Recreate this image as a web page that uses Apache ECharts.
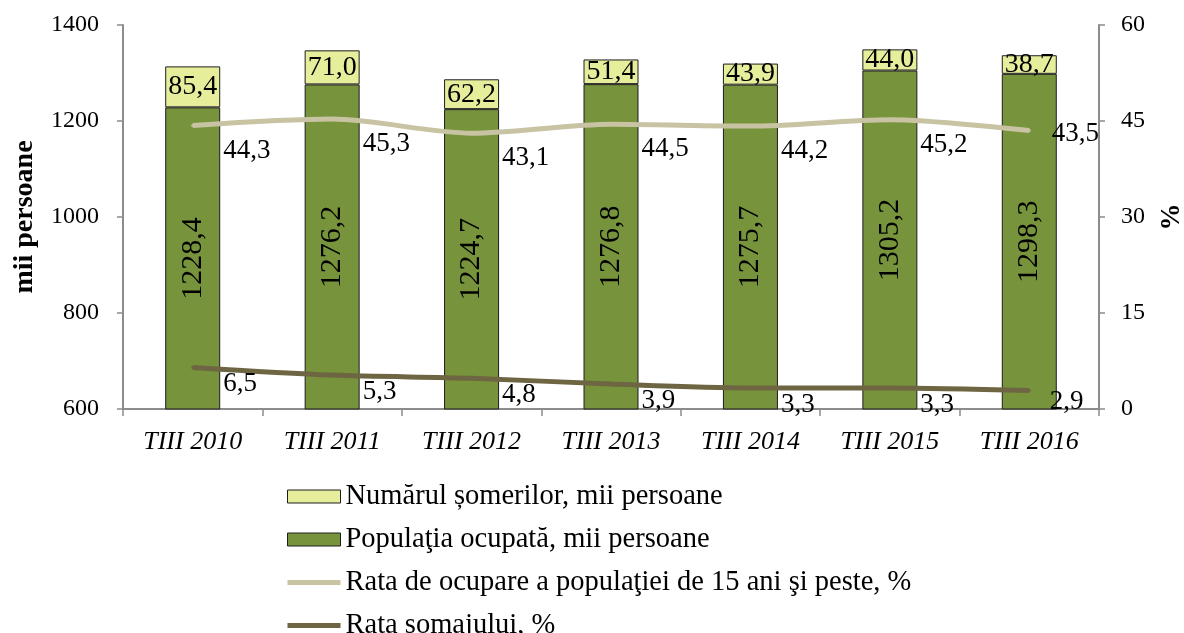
<!DOCTYPE html>
<html>
<head>
<meta charset="utf-8">
<script src="https://cdn.jsdelivr.net/npm/echarts@6/dist/echarts.min.js"></script>
<style>
  html, body { margin: 0; padding: 0; background: #fff; }
  #chart { width: 1184px; height: 633px; }
</style>
</head>
<body>
<div id="chart"></div>
<script>
// Quarterly labour-market indicators
const categories = ['TIII 2010', 'TIII 2011', 'TIII 2012', 'TIII 2013', 'TIII 2014', 'TIII 2015', 'TIII 2016'];
const employed = [1228.4, 1276.2, 1224.7, 1276.8, 1275.7, 1305.2, 1298.3];
const unemployed = [85.4, 71.0, 62.2, 51.4, 43.9, 44.0, 38.7];
const employmentRate = [44.3, 45.3, 43.1, 44.5, 44.2, 45.2, 43.5];
const unemploymentRate = [6.5, 5.3, 4.8, 3.9, 3.3, 3.3, 2.9];

const FONT = 'Liberation Serif';
const fmt = p => Number(p.value).toFixed(1).replace('.', ',');

const NAME_UNEMP = 'Numărul șomerilor, mii persoane';
const NAME_EMP = 'Populaţia ocupată, mii persoane';
const NAME_RATE_EMP = 'Rata de ocupare a populaţiei de 15 ani şi peste, %';
const NAME_RATE_UNEMP = 'Rata șomajului, %';

const C_EMP = '#77933C', C_UNEMP = '#E6EE9C';
const C_RATE_EMP = '#C8C3A2', C_RATE_UNEMP = '#6E6643';

// thin horizontal stroke used as the legend key of the line series
const LINE_ICON = 'path://M0,0L0.1,0L0,0.1Z M0,4H53V9H0Z M53,13L52.9,13L53,12.9Z';

// the last point's label sits closer, keeping it inside the plot
function lineData(values, lastOffset) {
  return values.map((v, i) => i === values.length - 1
    ? { value: v, label: { offset: lastOffset } }
    : v);
}

const chart = echarts.init(document.getElementById('chart'));
chart.setOption({
  animation: false,
  textStyle: { fontFamily: FONT, color: '#000' },
  grid: { left: 123, right: 85, top: 25, bottom: 224, outerBoundsMode: 'none', containLabel: false },
  legend: {
    orient: 'vertical',
    left: 282,
    top: 477,
    height: 220,
    itemWidth: 53,
    itemHeight: 13,
    itemGap: 14,
    textStyle: { fontFamily: FONT, fontSize: 28.5, color: '#000' },
    data: [
      { name: NAME_UNEMP, icon: 'rect', itemStyle: { color: C_UNEMP, borderColor: '#1e1e1e', borderWidth: 1 } },
      { name: NAME_EMP, icon: 'rect', itemStyle: { color: C_EMP, borderColor: '#1e1e1e', borderWidth: 1 } },
      { name: NAME_RATE_EMP, icon: LINE_ICON, itemStyle: { color: C_RATE_EMP, borderWidth: 0 } },
      { name: NAME_RATE_UNEMP, icon: LINE_ICON, itemStyle: { color: C_RATE_UNEMP, borderWidth: 0 } }
    ]
  },
  xAxis: {
    type: 'category',
    data: categories,
    axisLine: { lineStyle: { color: '#8c8c8c', width: 2 } },
    axisTick: { show: true, length: 7, lineStyle: { color: '#8c8c8c', width: 1.5 } },
    axisLabel: { fontFamily: FONT, fontSize: 26, fontStyle: 'italic', color: '#000', margin: 20 }
  },
  yAxis: [
    {
      type: 'value', min: 600, max: 1400, interval: 200,
      name: 'mii persoane', nameLocation: 'middle', nameGap: 84, nameRotate: 90,
      nameTextStyle: { fontFamily: FONT, fontSize: 28, fontWeight: 'bold', color: '#000' },
      axisLine: { show: true, lineStyle: { color: '#8c8c8c', width: 2 } },
      axisTick: { show: true, length: 6, lineStyle: { color: '#8c8c8c', width: 1.5 } },
      axisLabel: { fontFamily: FONT, fontSize: 24, color: '#000', margin: 24, formatter: v => String(v) },
      splitLine: { show: false }
    },
    {
      type: 'value', min: 0, max: 60, interval: 15,
      name: '%', nameLocation: 'middle', nameGap: 60, nameRotate: 90,
      nameTextStyle: { fontFamily: FONT, fontSize: 27, fontWeight: 'bold', color: '#000' },
      axisLine: { show: true, lineStyle: { color: '#8c8c8c', width: 2 } },
      axisTick: { show: true, length: 6, lineStyle: { color: '#8c8c8c', width: 1.5 } },
      axisLabel: { fontFamily: FONT, fontSize: 24, color: '#000', margin: 22 },
      splitLine: { show: false }
    }
  ],
  series: [
    {
      name: NAME_EMP,
      type: 'bar', stack: 'pop', barWidth: 55, z: 2,
      data: employed,
      itemStyle: { color: C_EMP, borderColor: '#1e1e1e', borderWidth: 1 },
      label: { show: true, position: 'inside', rotate: 90, fontFamily: FONT, fontSize: 30, color: '#000', formatter: fmt }
    },
    {
      name: NAME_UNEMP,
      type: 'bar', stack: 'pop', barWidth: 55, z: 2,
      data: unemployed,
      itemStyle: { color: C_UNEMP, borderColor: '#1e1e1e', borderWidth: 1 },
      label: { show: true, position: 'inside', fontFamily: FONT, fontSize: 28, color: '#000', formatter: fmt }
    },
    {
      name: NAME_RATE_EMP,
      type: 'line', yAxisIndex: 1, smooth: 0.3, z: 5,
      data: lineData(employmentRate, [21, 3]),
      symbol: 'circle', symbolSize: 3,
      lineStyle: { color: C_RATE_EMP, width: 5 },
      itemStyle: { color: C_RATE_EMP },
      label: { show: true, position: 'right', distance: 0, offset: [29, 25], fontFamily: FONT, fontSize: 27, color: '#000', formatter: fmt }
    },
    {
      name: NAME_RATE_UNEMP,
      type: 'line', yAxisIndex: 1, smooth: 0.3, z: 5,
      data: lineData(unemploymentRate, [19, 11]),
      symbol: 'circle', symbolSize: 3,
      lineStyle: { color: C_RATE_UNEMP, width: 5 },
      itemStyle: { color: C_RATE_UNEMP },
      label: { show: true, position: 'right', distance: 0, offset: [29, 17], fontFamily: FONT, fontSize: 27, color: '#000', formatter: fmt }
    }
  ]
});
</script>
</body>
</html>
